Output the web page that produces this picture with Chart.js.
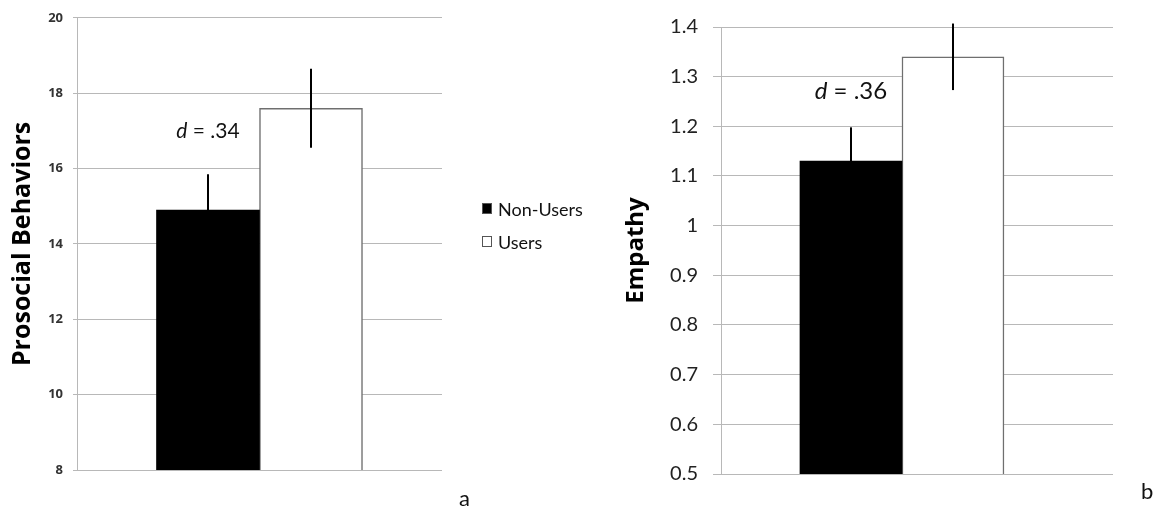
<!DOCTYPE html>
<html>
<head>
<meta charset="utf-8">
<script src="https://cdn.jsdelivr.net/npm/chart.js@4.4.1/dist/chart.umd.min.js"></script>
<style>
  body { margin: 0; background: #fff; font-family: Lato, "Open Sans", sans-serif; }
  #wrap { position: relative; width: 1174px; height: 510px; overflow: hidden; }
  canvas { position: absolute; top: 0; }
  #left { left: 0; }
  #right { left: 580px; }
  #legend { position: absolute; left: 482px; top: 192px; font-size: 18px; color: #111; }
  #legend div { height: 33px; display: flex; align-items: center; }
  #legend span.sw { display: inline-block; width: 10px; height: 11px; margin-right: 6px; box-sizing: border-box; border: 1px solid #555; }
  .tag { position: absolute; font-size: 22px; color: #111; }
</style>
</head>
<body>
<div id="wrap">
  <canvas id="left" width="460" height="510"></canvas>
  <canvas id="right" width="594" height="510"></canvas>
  <div id="legend"></div>
  <div class="tag" style="left:459px; top:484px;">a</div>
  <div class="tag" style="left:1141px; top:477px;">b</div>
</div>
<script>
// groups and values
const groups = ["Non-Users", "Users"];
const groupColors = ["#000000", "#ffffff"];

const prosocialMeans = [14.9, 17.6];
const prosocialErrors = [0.95, 1.05];
const prosocialTicks = [8, 10, 12, 14, 16, 18, 20];

const empathyMeans = [1.13, 1.34];
const empathyErrors = [0.068, 0.067];
const empathyTicks = [0.5, 0.6, 0.7, 0.8, 0.9, 1, 1.1, 1.2, 1.3, 1.4];

// legend
const legendEl = document.getElementById("legend");
groups.forEach((g, i) => {
  const row = document.createElement("div");
  row.innerHTML = `<span class="sw" style="background:${groupColors[i]}"></span>${g}`;
  legendEl.appendChild(row);
});

// draws the error bars and the effect size text
const errorBars = {
  id: "errorBars",
  afterDatasetsDraw(chart, args, opts) {
    const ctx = chart.ctx;
    const yScale = chart.scales.y;
    ctx.save();
    ctx.strokeStyle = "#000";
    ctx.lineWidth = 2;
    chart.data.datasets.forEach((ds, i) => {
      const bar = chart.getDatasetMeta(i).data[0];
      const v = ds.data[0].y;
      const e = opts.errors[i];
      ctx.beginPath();
      ctx.moveTo(bar.x, yScale.getPixelForValue(v - e));
      ctx.lineTo(bar.x, yScale.getPixelForValue(v + e));
      ctx.stroke();
    });

    // "d = .xx" above the first bar
    const first = chart.getDatasetMeta(0).data[0];
    const y = yScale.getPixelForValue(opts.labelAt);
    ctx.fillStyle = "#111";
    ctx.textBaseline = "alphabetic";
    ctx.font = `italic ${opts.size}px Lato, "Open Sans", sans-serif`;
    const w1 = ctx.measureText("d").width;
    ctx.font = `${opts.size}px Lato, "Open Sans", sans-serif`;
    const rest = " = " + opts.text;
    const w2 = ctx.measureText(rest).width;
    const x0 = first.x - (w1 + w2) / 2;
    ctx.font = `italic ${opts.size}px Lato, "Open Sans", sans-serif`;
    ctx.fillText("d", x0, y);
    ctx.font = `${opts.size}px Lato, "Open Sans", sans-serif`;
    ctx.fillText(rest, x0 + w1, y);
    ctx.restore();
  }
};

function makeChart(id, means, errors, ticks, o) {
  const ctx = document.getElementById(id).getContext("2d");
  return new Chart(ctx, {
    type: "bar",
    data: {
      datasets: groups.map((g, i) => ({
        label: g,
        data: [{ x: o.barX, y: means[i] }],
        backgroundColor: groupColors[i],
        borderColor: i === 0 ? "#000" : "#6f6f6f",
        borderWidth: i === 0 ? 0 : 1.5,
        barThickness: o.barWidth
      }))
    },
    options: {
      responsive: false,
      animation: false,
      layout: { padding: o.padding },
      plugins: {
        legend: { display: false },
        tooltip: { enabled: false },
        errorBars: { errors: errors, labelAt: o.labelAt, text: o.dText, size: o.dSize }
      },
      scales: {
        x: { type: "linear", display: false, min: 0, max: 1 },
        y: {
          min: ticks[0],
          max: ticks[ticks.length - 1],
          afterBuildTicks(scale) {
            scale.ticks = ticks.map(v => ({ value: v }));
          },
          afterFit(scale) { scale.width = o.axisWidth; },
          grid: { color: "#b8b8b8", lineWidth: 1, tickLength: o.tickLength, drawTicks: true },
          border: { display: true, color: "#b8b8b8", width: 1 },
          ticks: {
            padding: o.tickPad,
            color: o.tickColor,
            font: { family: o.tickFamily, size: o.tickSize, weight: o.tickWeight },
            callback: v => String(v)
          },
          title: {
            display: true,
            text: o.title,
            color: "#000",
            padding: { top: o.titlePad, bottom: 0 },
            font: { family: "Open Sans", size: o.titleSize, weight: "bold" }
          }
        }
      }
    },
    plugins: [errorBars]
  });
}

makeChart("left", prosocialMeans, prosocialErrors, prosocialTicks, {
  barX: 0.5, barWidth: 103,
  padding: { left: 0, top: 17, right: 18, bottom: 40 },
  axisWidth: 77, tickLength: 4, tickPad: 10,
  tickColor: "#333", tickFamily: "Open Sans", tickSize: 13, tickWeight: "bold",
  title: "Prosocial Behaviors", titleSize: 25, titlePad: 8,
  labelAt: 16.8, dText: ".34", dSize: 21
});

makeChart("right", empathyMeans, empathyErrors, empathyTicks, {
  barX: 0.454, barWidth: 102,
  padding: { left: 0, top: 22, right: 61, bottom: 36 },
  axisWidth: 141, tickLength: 8, tickPad: 15,
  tickColor: "#222", tickFamily: "Lato", tickSize: 20, tickWeight: "normal",
  title: "Empathy", titleSize: 24, titlePad: 42,
  labelAt: 1.255, dText: ".36", dSize: 24
});
</script>
</body>
</html>
